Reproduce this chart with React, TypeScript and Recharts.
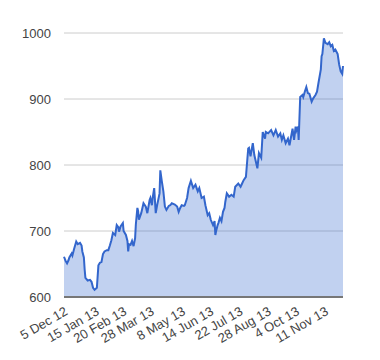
import React from 'react';
import { AreaChart, Area, XAxis, YAxis, CartesianGrid } from 'recharts';

const START_DATE = '2012-12-05';

const dayOffsets = [
  0, 2, 4, 6, 7, 10, 11, 13, 16, 18, 21, 23, 24, 26, 27, 28, 31, 34, 36, 38,
  40, 43, 45, 47, 49, 51, 53, 56, 58, 60, 62, 64, 67, 69, 71, 72, 74, 77, 78, 81,
  83, 84, 85, 87, 89, 91, 93, 94, 96, 97, 98, 101, 104, 107, 109, 112, 113, 115, 116, 118,
  120, 122, 125, 126, 128, 130, 132, 134, 137, 139, 141, 143, 145, 148, 150, 152, 154, 157, 158, 161,
  163, 166, 169, 172, 175, 177, 180, 183, 185, 188, 190, 192, 195, 197, 198, 199, 201, 202, 204, 206,
  208, 210, 211, 213, 216, 219, 222, 224, 228, 231, 233, 235, 238, 241, 242, 244, 247, 249, 253, 255,
  258, 260, 263, 264, 267, 271, 274, 277, 280, 283, 285, 287, 290, 293, 295, 299, 301, 303, 304, 306,
  307, 309, 312, 313, 315, 317, 319, 321, 324, 326, 329, 331, 333, 336, 337, 338, 340, 342, 345, 347,
  349, 351, 353, 355, 358, 360, 362, 364, 365,
];

const prices = [
  661, 655, 651, 656, 660, 666, 663, 672, 684, 680, 682, 678, 669, 660, 642, 629, 625, 626, 623, 614,
  611, 614, 648, 652, 653, 665, 669, 671, 671, 678, 686, 697, 694, 709, 706, 699, 707, 712, 700, 694,
  685, 669, 680, 679, 685, 677, 689, 710, 735, 730, 717, 727, 742, 737, 727, 747, 750, 739, 750, 765,
  727, 740, 757, 792, 775, 760, 737, 732, 738, 739, 742, 741, 740, 737, 729, 735, 739, 738, 739, 750,
  765, 776, 765, 770, 760, 765, 750, 752, 739, 724, 727, 717, 709, 715, 694, 700, 709, 712, 720, 715,
  729, 735, 744, 757, 752, 755, 752, 767, 772, 767, 772, 777, 782, 825, 826, 813, 833, 815, 795, 818,
  811, 850, 840, 850, 848, 853, 845, 853, 843, 848, 838, 845, 833, 840, 830, 855, 838, 858, 852, 858,
  838, 903, 906, 903, 911, 918, 909, 908, 896, 901, 906, 911, 925, 945, 965, 968, 992, 985, 983, 986,
  980, 982, 973, 975, 968, 952, 942, 938, 950,
];

const tickDates = [
  '2012-12-05', '2013-01-15', '2013-02-20', '2013-03-28', '2013-05-08',
  '2013-06-14', '2013-07-22', '2013-08-28', '2013-10-04', '2013-11-11',
];
const tickLabels = [
  '5 Dec 12', '15 Jan 13', '20 Feb 13', '28 Mar 13', '8 May 13',
  '14 Jun 13', '22 Jul 13', '28 Aug 13', '4 Oct 13', '11 Nov 13',
];
const yTicks = [600, 700, 800, 900, 1000];

const DAY_MS = 86400000;
const toDay = (iso: string) =>
  Math.round((Date.parse(iso) - Date.parse(START_DATE)) / DAY_MS);

const data = dayOffsets.map((d, i) => ({ day: d, price: prices[i] }));
const xTicks = tickDates.map(toDay);
const labelFor = (v: number) => {
  const i = xTicks.indexOf(v);
  return i >= 0 ? tickLabels[i] : '';
};

const FONT = '"Liberation Sans", Arial, sans-serif';

export default function App() {
  return (
    <div style={{ position: 'absolute', left: 0, top: 0, width: 380, height: 360, background: '#fff' }}>
      <AreaChart
        width={380}
        height={360}
        data={data}
        margin={{ top: 33, right: 37, bottom: 3, left: 0 }}
      >
        <CartesianGrid vertical={false} stroke="#cccccc" />
        <Area
          type="linear"
          dataKey="price"
          stroke="#3366cc"
          strokeWidth={2}
          fill="#3366cc"
          fillOpacity={0.3}
          dot={false}
          activeDot={false}
          isAnimationActive={false}
        />
        <XAxis
          dataKey="day"
          type="number"
          domain={[0, 365]}
          ticks={xTicks}
          tickFormatter={labelFor}
          interval={0}
          angle={-30}
          textAnchor="end"
          height={60}
          axisLine={{ stroke: '#777777', strokeWidth: 2 }}
          tickLine={false}
          tickMargin={3}
          tick={{ fill: '#444444', fontSize: 13, fontFamily: FONT }}
        />
        <YAxis
          domain={[600, 1000]}
          ticks={yTicks}
          width={64}
          axisLine={false}
          tickLine={false}
          tickMargin={7}
          tick={{ fill: '#444444', fontSize: 13, fontFamily: FONT }}
        />
      </AreaChart>
    </div>
  );
}
